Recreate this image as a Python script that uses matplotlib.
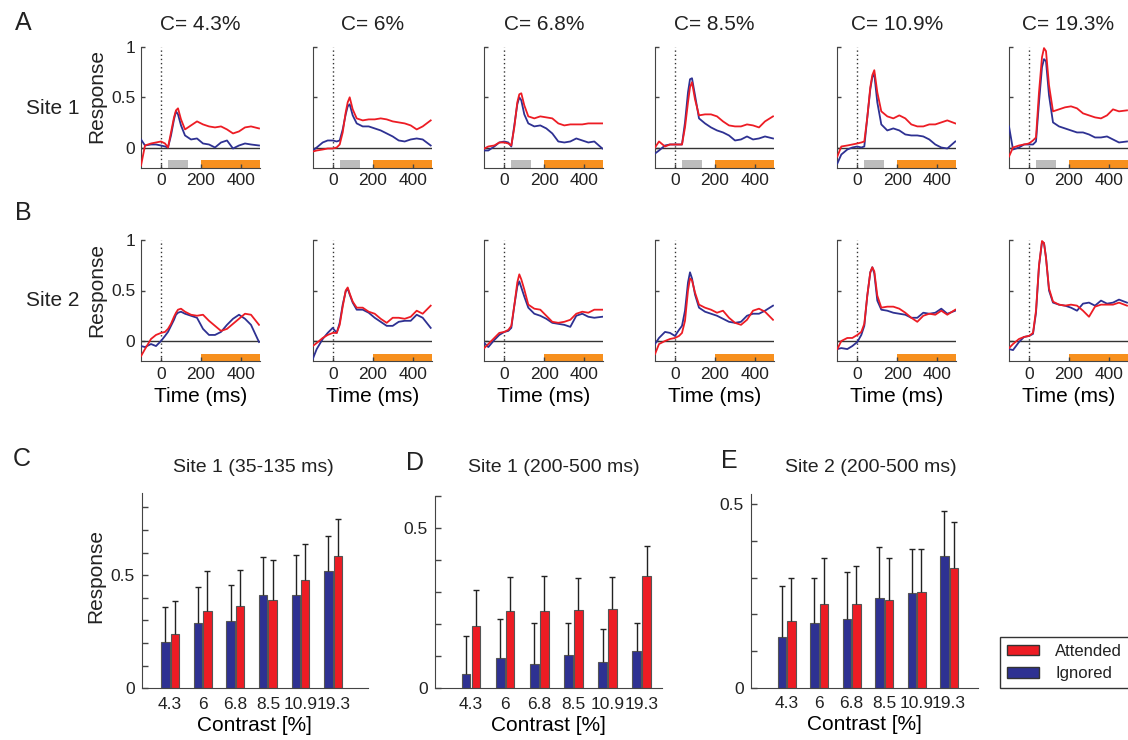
import matplotlib
matplotlib.use("Agg")
import matplotlib.pyplot as plt
from matplotlib.patches import Patch
import numpy as np

plt.rcParams['font.family'] = ['Liberation Sans', 'DejaVu Sans']
plt.rcParams['text.color'] = '#222222'
plt.rcParams['axes.edgecolor'] = '#444444'
plt.rcParams['xtick.color'] = '#444444'
plt.rcParams['ytick.color'] = '#444444'
plt.rcParams['xtick.labelcolor'] = '#222222'
plt.rcParams['ytick.labelcolor'] = '#222222'

RED = '#ED1C24'
BLUE = '#2E3192'
ORANGE = '#F7901E'
GRAY = '#BDBDBD'

# ---- time courses, time in ms ----
t_ms = [-100, -80, -50, -25, 0, 20, 35, 50, 65, 75, 85, 100, 120,
        150, 180, 210, 240, 270, 300, 330, 360, 390, 420, 450, 490]
contrast_titles = ['C= 4.3%', 'C= 6%', 'C= 6.8%', 'C= 8.5%', 'C= 10.9%', 'C= 19.3%']

site1_attended = [
    [-0.18, 0.02, 0.04, 0.05, 0.06, 0.04, 0.00, 0.15, 0.30, 0.37, 0.39, 0.28, 0.18,
     0.22, 0.26, 0.23, 0.21, 0.20, 0.21, 0.18, 0.14, 0.16, 0.20, 0.21, 0.19],
    [-0.04, -0.03, -0.02, -0.01, -0.01, 0.00, 0.03, 0.15, 0.35, 0.45, 0.50, 0.38, 0.29,
     0.27, 0.28, 0.28, 0.29, 0.28, 0.26, 0.25, 0.24, 0.22, 0.18, 0.21, 0.27],
    [-0.01, 0.01, 0.02, 0.05, 0.05, 0.04, 0.02, 0.20, 0.45, 0.53, 0.54, 0.42, 0.31,
     0.29, 0.31, 0.30, 0.29, 0.24, 0.22, 0.23, 0.23, 0.23, 0.24, 0.24, 0.24],
    [0.00, 0.06, 0.01, 0.03, 0.03, 0.03, 0.03, 0.20, 0.45, 0.60, 0.65, 0.48, 0.32,
     0.33, 0.33, 0.31, 0.26, 0.22, 0.21, 0.21, 0.23, 0.22, 0.20, 0.26, 0.31],
    [-0.09, 0.01, 0.02, 0.03, 0.04, 0.05, 0.06, 0.30, 0.60, 0.72, 0.77, 0.55, 0.36,
     0.31, 0.29, 0.32, 0.29, 0.23, 0.21, 0.21, 0.23, 0.23, 0.25, 0.27, 0.24],
    [-0.09, 0.00, 0.02, 0.03, 0.04, 0.07, 0.10, 0.55, 0.90, 0.99, 0.96, 0.62, 0.36,
     0.38, 0.40, 0.41, 0.39, 0.34, 0.32, 0.30, 0.29, 0.32, 0.38, 0.36, 0.37],
]
site1_ignored = [
    [0.08, 0.02, 0.03, 0.03, 0.02, 0.01, 0.00, 0.12, 0.28, 0.36, 0.33, 0.22, 0.12,
     0.08, 0.09, 0.04, 0.03, 0.00, 0.05, 0.07, -0.01, 0.02, 0.04, 0.03, 0.02],
    [-0.03, 0.00, 0.05, 0.07, 0.07, 0.06, 0.07, 0.18, 0.33, 0.41, 0.43, 0.32, 0.24,
     0.21, 0.21, 0.19, 0.17, 0.14, 0.11, 0.07, 0.06, 0.08, 0.09, 0.08, 0.02],
    [-0.03, -0.03, 0.01, 0.05, 0.06, 0.05, 0.01, 0.22, 0.43, 0.50, 0.47, 0.33, 0.24,
     0.21, 0.22, 0.19, 0.14, 0.06, 0.05, 0.06, 0.09, 0.07, 0.05, 0.06, -0.01],
    [-0.06, -0.03, 0.02, 0.03, 0.03, 0.03, 0.03, 0.25, 0.55, 0.68, 0.69, 0.52, 0.29,
     0.24, 0.20, 0.17, 0.15, 0.12, 0.07, 0.08, 0.11, 0.08, 0.09, 0.11, 0.09],
    [-0.16, -0.07, -0.02, 0.00, 0.01, 0.00, 0.01, 0.30, 0.58, 0.70, 0.73, 0.45, 0.23,
     0.17, 0.19, 0.17, 0.13, 0.12, 0.12, 0.11, 0.08, 0.03, 0.00, -0.01, 0.06],
    [0.21, -0.02, 0.00, 0.03, 0.03, 0.03, 0.06, 0.45, 0.80, 0.88, 0.86, 0.52, 0.25,
     0.21, 0.19, 0.17, 0.15, 0.15, 0.13, 0.10, 0.10, 0.11, 0.08, 0.05, 0.06],
]
site2_attended = [
    [-0.15, -0.08, 0.02, 0.06, 0.08, 0.09, 0.12, 0.17, 0.24, 0.28, 0.31, 0.32, 0.29,
     0.26, 0.25, 0.26, 0.20, 0.15, 0.10, 0.12, 0.17, 0.22, 0.27, 0.26, 0.16],
    [-0.05, -0.02, 0.03, 0.06, 0.08, 0.08, 0.16, 0.34, 0.50, 0.53, 0.47, 0.39, 0.33,
     0.33, 0.29, 0.27, 0.22, 0.18, 0.23, 0.23, 0.22, 0.24, 0.30, 0.27, 0.35],
    [-0.07, -0.03, 0.03, 0.08, 0.09, 0.11, 0.15, 0.35, 0.58, 0.66, 0.61, 0.51, 0.36,
     0.32, 0.31, 0.25, 0.19, 0.18, 0.19, 0.21, 0.27, 0.29, 0.28, 0.31, 0.31],
    [-0.13, -0.03, 0.00, 0.02, 0.03, 0.05, 0.08, 0.20, 0.50, 0.62, 0.60, 0.48, 0.36,
     0.33, 0.31, 0.28, 0.30, 0.23, 0.18, 0.16, 0.21, 0.30, 0.32, 0.29, 0.21],
    [-0.08, 0.00, 0.03, 0.03, 0.06, 0.09, 0.17, 0.45, 0.68, 0.73, 0.69, 0.45, 0.33,
     0.34, 0.34, 0.32, 0.28, 0.23, 0.19, 0.25, 0.27, 0.26, 0.30, 0.26, 0.31],
    [-0.07, -0.03, 0.02, 0.04, 0.05, 0.08, 0.30, 0.75, 0.99, 0.97, 0.82, 0.52, 0.39,
     0.36, 0.35, 0.36, 0.35, 0.30, 0.24, 0.34, 0.36, 0.36, 0.36, 0.38, 0.35],
]
site2_ignored = [
    [-0.05, -0.06, -0.03, -0.05, 0.00, 0.05, 0.09, 0.15, 0.21, 0.26, 0.28, 0.29, 0.27,
     0.25, 0.23, 0.12, 0.06, 0.06, 0.09, 0.16, 0.22, 0.26, 0.22, 0.16, -0.01],
    [-0.18, -0.08, 0.02, 0.08, 0.13, 0.08, 0.18, 0.36, 0.49, 0.52, 0.46, 0.38, 0.31,
     0.31, 0.28, 0.23, 0.19, 0.15, 0.15, 0.19, 0.20, 0.20, 0.26, 0.23, 0.13],
    [-0.02, -0.06, 0.01, 0.06, 0.09, 0.10, 0.13, 0.35, 0.54, 0.59, 0.53, 0.44, 0.33,
     0.27, 0.25, 0.22, 0.18, 0.17, 0.16, 0.14, 0.25, 0.27, 0.24, 0.23, 0.24],
    [-0.03, 0.03, 0.09, 0.08, 0.05, 0.11, 0.15, 0.30, 0.58, 0.68, 0.62, 0.46, 0.33,
     0.29, 0.27, 0.25, 0.22, 0.19, 0.18, 0.19, 0.25, 0.27, 0.27, 0.30, 0.35],
    [-0.08, -0.07, -0.08, -0.05, -0.01, 0.06, 0.15, 0.45, 0.68, 0.73, 0.67, 0.40, 0.31,
     0.30, 0.28, 0.27, 0.26, 0.23, 0.23, 0.28, 0.27, 0.28, 0.32, 0.27, 0.30],
    [-0.08, -0.09, -0.01, 0.04, 0.05, 0.07, 0.28, 0.74, 0.98, 0.97, 0.83, 0.50, 0.38,
     0.36, 0.35, 0.33, 0.30, 0.37, 0.38, 0.35, 0.40, 0.37, 0.38, 0.41, 0.38],
]

# ---- mean responses in windows ----
contrast_labels = ['4.3', '6', '6.8', '8.5', '10.9', '19.3']
c_ign = [0.203, 0.291, 0.299, 0.411, 0.414, 0.518]
c_att = [0.240, 0.342, 0.364, 0.392, 0.478, 0.587]
c_ign_top = [0.360, 0.450, 0.456, 0.580, 0.590, 0.673]
c_att_top = [0.388, 0.518, 0.525, 0.567, 0.638, 0.751]
d_ign = [0.043, 0.093, 0.077, 0.104, 0.082, 0.116]
d_att = [0.195, 0.242, 0.242, 0.244, 0.248, 0.350]
d_ign_top = [0.162, 0.215, 0.202, 0.202, 0.184, 0.202]
d_att_top = [0.307, 0.346, 0.351, 0.343, 0.346, 0.444]
e_ign = [0.137, 0.176, 0.187, 0.245, 0.257, 0.358]
e_att = [0.183, 0.228, 0.228, 0.240, 0.261, 0.327]
e_ign_top = [0.276, 0.299, 0.315, 0.385, 0.378, 0.483]
e_att_top = [0.299, 0.354, 0.333, 0.355, 0.379, 0.453]

W, H = 1128, 740
fig = plt.figure(figsize=(W / 100, H / 100), dpi=100)


def px_axes(left, top, right, bottom):
    return fig.add_axes([left / W, 1 - bottom / H, (right - left) / W, (bottom - top) / H])


def ftext(x, y, s, **kw):
    fig.text(x / W, 1 - y / H, s, ha='center', va='center', **kw)


col_left = [141, 312.7, 484.3, 655, 837.3, 1009]
xmin, xmax = -100, 495
ymin, ymax = -0.2, 1.02
px_ms = 0.2


def time_panel(left, zero_y, unit, att, ign, first, show_gray):
    ax = px_axes(left, zero_y - ymax * unit, left + (xmax - xmin) * px_ms, zero_y - ymin * unit)
    for s in ['top', 'right']:
        ax.spines[s].set_visible(False)
    ax.spines['left'].set_bounds(-0.2, 1.0)
    ax.set_xlim(xmin, xmax)
    ax.set_ylim(ymin, ymax)
    if show_gray:
        ax.broken_barh([(35, 100)], (-0.2, 0.075), facecolors=GRAY, zorder=1)
    ax.broken_barh([(200, 300)], (-0.2, 0.075), facecolors=ORANGE, zorder=1)
    ax.axhline(0, color='#333333', lw=1, zorder=2)
    ax.vlines(0, -0.2, 1.0, colors='#333333', linestyles=(0, (1, 2)), lw=1, zorder=2)
    ax.plot(t_ms, ign, color=BLUE, lw=1.3, zorder=3)
    ax.plot(t_ms, att, color=RED, lw=1.3, zorder=4)
    ax.set_xticks([0, 200, 400])
    ax.set_xticklabels(['0', '200', '400'], fontsize=12.5)
    ax.set_yticks([0, 0.5, 1])
    if first:
        ax.set_yticklabels(['0', '0.5', '1'], fontsize=12.5)
    else:
        ax.set_yticklabels([])
    ax.tick_params(direction='in', length=3, width=1, pad=4)
    return ax


for i in range(6):
    time_panel(col_left[i], 147.5, 100.4, site1_attended[i], site1_ignored[i], i == 0, True)
    ftext(col_left[i] + 59.5, 24, contrast_titles[i], fontsize=15)
    ax = time_panel(col_left[i], 341.0, 101.0, site2_attended[i], site2_ignored[i], i == 0, False)
    ax.set_xlabel('Time (ms)', fontsize=15, labelpad=4)

ftext(97, 96, 'Response', fontsize=15, rotation=90)
ftext(97, 290, 'Response', fontsize=15, rotation=90)
ftext(53, 108, 'Site 1', fontsize=15)
ftext(53, 300, 'Site 2', fontsize=15)
ftext(23, 23, 'A', fontsize=18)
ftext(23, 213, 'B', fontsize=18)
ftext(22, 459, 'C', fontsize=18)
ftext(415, 463, 'D', fontsize=18)
ftext(729, 461, 'E', fontsize=18)


def bar_panel(left, right, zero_y, unit, ytop, xlo, xhi, ign, att, ign_top, att_top, title, tcx):
    ax = px_axes(left, zero_y - ytop * unit, right, zero_y)
    for s in ['top', 'right']:
        ax.spines[s].set_visible(False)
    ax.set_xlim(xlo, xhi)
    ax.set_ylim(0, ytop)
    x = np.arange(1, 7)
    w, off = 0.26, 0.145
    ax.bar(x - off, ign, w, color=BLUE, edgecolor='#555555', lw=0.8, zorder=2)
    ax.bar(x + off, att, w, color=RED, edgecolor='#555555', lw=0.8, zorder=2)
    for xs, lo, hi in [(x - off, ign, ign_top), (x + off, att, att_top)]:
        ax.vlines(xs, lo, hi, colors='#222222', lw=1, zorder=3)
        ax.plot(xs, hi, ls='none', marker='_', ms=4, mew=1, color='#222222', zorder=3)
    ax.set_xticks(x)
    ax.set_xticklabels(contrast_labels, fontsize=12.5)
    ticks = np.arange(0, ytop + 0.001, 0.1)
    ax.set_yticks(ticks)
    ax.set_yticklabels(['0' if abs(v) < 1e-9 else ('0.5' if abs(v - 0.5) < 1e-9 else '')
                        for v in ticks], fontsize=12.5)
    ax.tick_params(axis='y', direction='in', length=4, width=1, pad=5)
    ax.tick_params(axis='x', length=0, pad=6)
    ax.set_xlabel('Contrast [%]', fontsize=15, labelpad=3)
    ftext(tcx, 467, title, fontsize=14)
    return ax


bar_panel(141.7, 367.7, 688.3, 226.0, 0.865, 0.13, 7.06,
          c_ign, c_att, c_ign_top, c_att_top, 'Site 1 (35-135 ms)', 253)
ftext(96, 576, 'Response', fontsize=15, rotation=90)
bar_panel(435, 661.7, 688.3, 321.3, 0.6, -0.055, 6.59,
          d_ign, d_att, d_ign_top, d_att_top, 'Site 1 (200-500 ms)', 554)
bar_panel(751, 978.3, 687.7, 366.7, 0.527, -0.1, 6.9,
          e_ign, e_att, e_ign_top, e_att_top, 'Site 2 (200-500 ms)', 871)

handles = [Patch(facecolor=RED, edgecolor='#333333', label='Attended'),
           Patch(facecolor=BLUE, edgecolor='#333333', label='Ignored')]
leg = fig.legend(handles=handles, loc='center', bbox_to_anchor=(1064.5 / W, 1 - 662.5 / H),
                 fontsize=12, fancybox=False, edgecolor='#333333', framealpha=1,
                 handlelength=1.9, handleheight=0.6, handletextpad=1.0, labelspacing=0.45,
                 borderpad=0.4)
leg.get_frame().set_linewidth(1)

fig.savefig('out.png', dpi=100)
